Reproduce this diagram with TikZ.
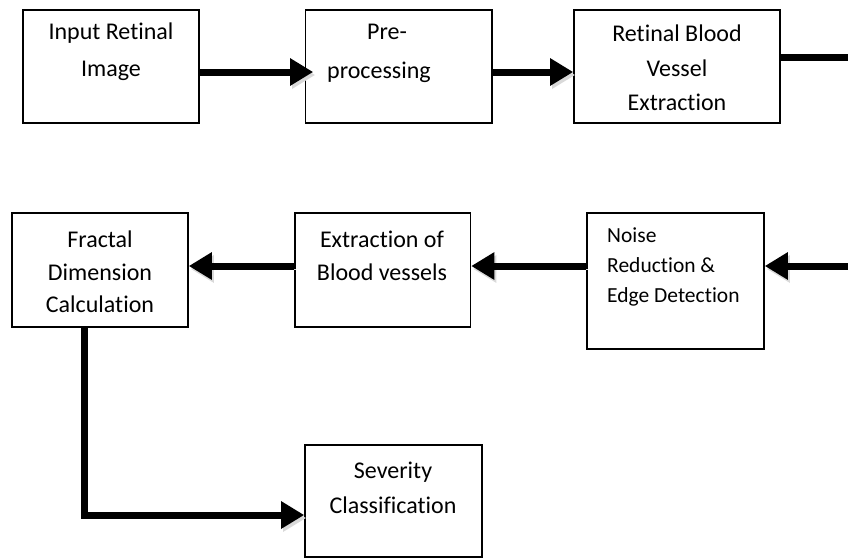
\documentclass[tikz,border=0pt]{standalone}
\usepackage{fontspec}
\setmainfont{Carlito}[Ligatures=CommonOff]
\usetikzlibrary{arrows.meta}
\begin{document}
\begin{tikzpicture}[x=1pt,y=-1pt,
  box/.style={draw, line width=1.6pt, inner sep=0pt},
  lbl/.style={align=center, inner sep=0pt, font={\fontsize{24}{#1}\selectfont}},
  conn/.style={line width=7pt, -{Triangle[length=23pt,width=26pt]},
    preaction={draw=black!15, transform canvas={shift={(2pt,-3pt)}}}}]
\useasboundingbox (0,0) rectangle (848,558);
% boxes
\node[box, minimum width=176pt, minimum height=113pt] (b1) at (111,66.5) {};
\node[box, minimum width=186.5pt, minimum height=113pt] (b2) at (398.7,66.5) {};
\node[box, minimum width=206pt, minimum height=113pt] (b3) at (677,66.5) {};
\node[box, minimum width=176pt, minimum height=114pt] (b4) at (100,270) {};
\node[box, minimum width=175.5pt, minimum height=114pt] (b5) at (382.7,270) {};
\node[box, minimum width=177pt, minimum height=136pt] (b6) at (675.5,281) {};
\node[box, minimum width=177pt, minimum height=112pt] (b7) at (393.5,501) {};
% texts
\node[lbl=37] (t1) at (111,51.5) {Input Retinal\\Image};
\node[lbl=39] (t2) at (379,53.5) {\hspace*{16pt}Pre-\\processing};
\node[lbl=34.5] (t3) at (677,68) {Retinal Blood\\Vessel\\Extraction};
\node[lbl=32.5] (t4) at (100,272) {Fractal\\Dimension\\Calculation};
\node[lbl=33] (t5) at (382,255.5) {Extraction of\\Blood vessels};
\node[align=left, inner sep=0pt, anchor=west, font={\fontsize{21.5}{30}\selectfont}] (t6) at (607,267) {Noise\\Reduction \&\\Edge Detection};
\node[lbl=35] (t7) at (393,487.5) {Severity\\Classification};
% connectors
\coordinate (rc) at (853,266);
\draw[conn] ([yshift=-5.5pt]b1.east) -- ([yshift=-5.5pt,xshift=8.5pt]b2.west);
\draw[conn] ([yshift=-5.5pt]b2.east) -- ([yshift=-5.5pt]b3.west);
\draw[conn] ([yshift=9.5pt]b3.east) -| (rc) -- ([yshift=15pt]b6.east);
\draw[conn] ([yshift=15pt]b6.west) -- ([yshift=4pt]b5.east);
\draw[conn] ([yshift=4pt]b5.west) -- ([yshift=4pt]b4.east);
\draw[conn] ([xshift=-16pt]b4.south) |- ([yshift=-14pt]b7.west);
\end{tikzpicture}
\end{document}
